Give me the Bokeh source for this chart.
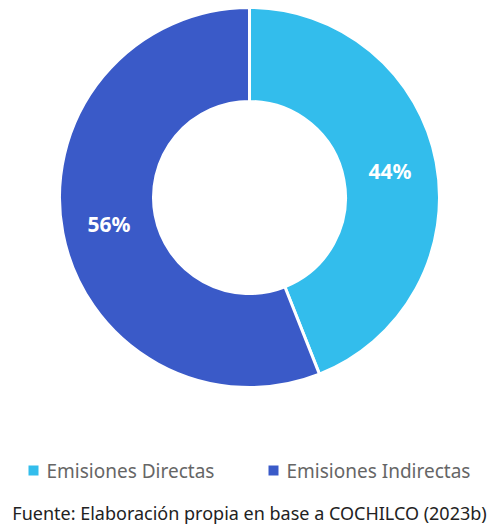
import math
from bokeh.plotting import figure
from bokeh.models import Range1d
from bokeh.core.properties import value
from bokeh.embed import file_html
from bokeh.resources import INLINE

categories = ["Emisiones Directas", "Emisiones Indirectas"]
shares = [44, 56]
colors = ["#33BDEC", "#3A5AC8"]
source_text = "Fuente: Elaboración propia en base a COCHILCO (2023b)"

W, H = 496, 529
p = figure(width=W, height=H, output_backend="svg", toolbar_location=None,
           x_range=Range1d(0, W), y_range=Range1d(0, H), min_border=0)
p.axis.visible = False
p.grid.visible = False
p.outline_line_color = None
p.background_fill_color = "white"

cx, cy = 249, H - 197
r_out, r_in = 190, 96
total = sum(shares)
start = math.pi / 2
starts, ends, mids = [], [], []
for v in shares:
    span = v / total * 2 * math.pi
    starts.append(start)
    ends.append(start - span)
    mids.append(start - span / 2)
    start -= span

p.annular_wedge(x=[cx] * len(shares), y=[cy] * len(shares), inner_radius=r_in, outer_radius=r_out,
                start_angle=starts, end_angle=ends, direction="clock",
                fill_color=colors, line_color="white", line_width=3)

r_lab = (r_in + r_out) / 2
lx = [cx + r_lab * math.cos(a) for a in mids]
ly = [cy + r_lab * math.sin(a) for a in mids]
p.text(x=lx, y=ly, text=[f"{v}%" for v in shares], text_color="white",
       text_font=value("Noto Sans"), text_font_style="bold", text_font_size="21px",
       text_align="center", text_baseline="middle")

# legend
leg_y = H - 470
sq_x = [33, 273]
p.scatter(x=sq_x, y=[leg_y] * 2, marker="square", size=10, fill_color=colors, line_color=None)
p.text(x=[s + 13 for s in sq_x], y=[leg_y] * 2, text=categories, text_color="#666666",
       text_font=value("Noto Sans"), text_font_size="19px",
       text_align="left", text_baseline="middle")

p.text(x=[249], y=[H - 512], text=[source_text], text_color="#222222",
       text_font=value("Noto Sans"), text_font_size="18px",
       text_align="center", text_baseline="middle")

open("out.html", "w").write(file_html(p, INLINE))
